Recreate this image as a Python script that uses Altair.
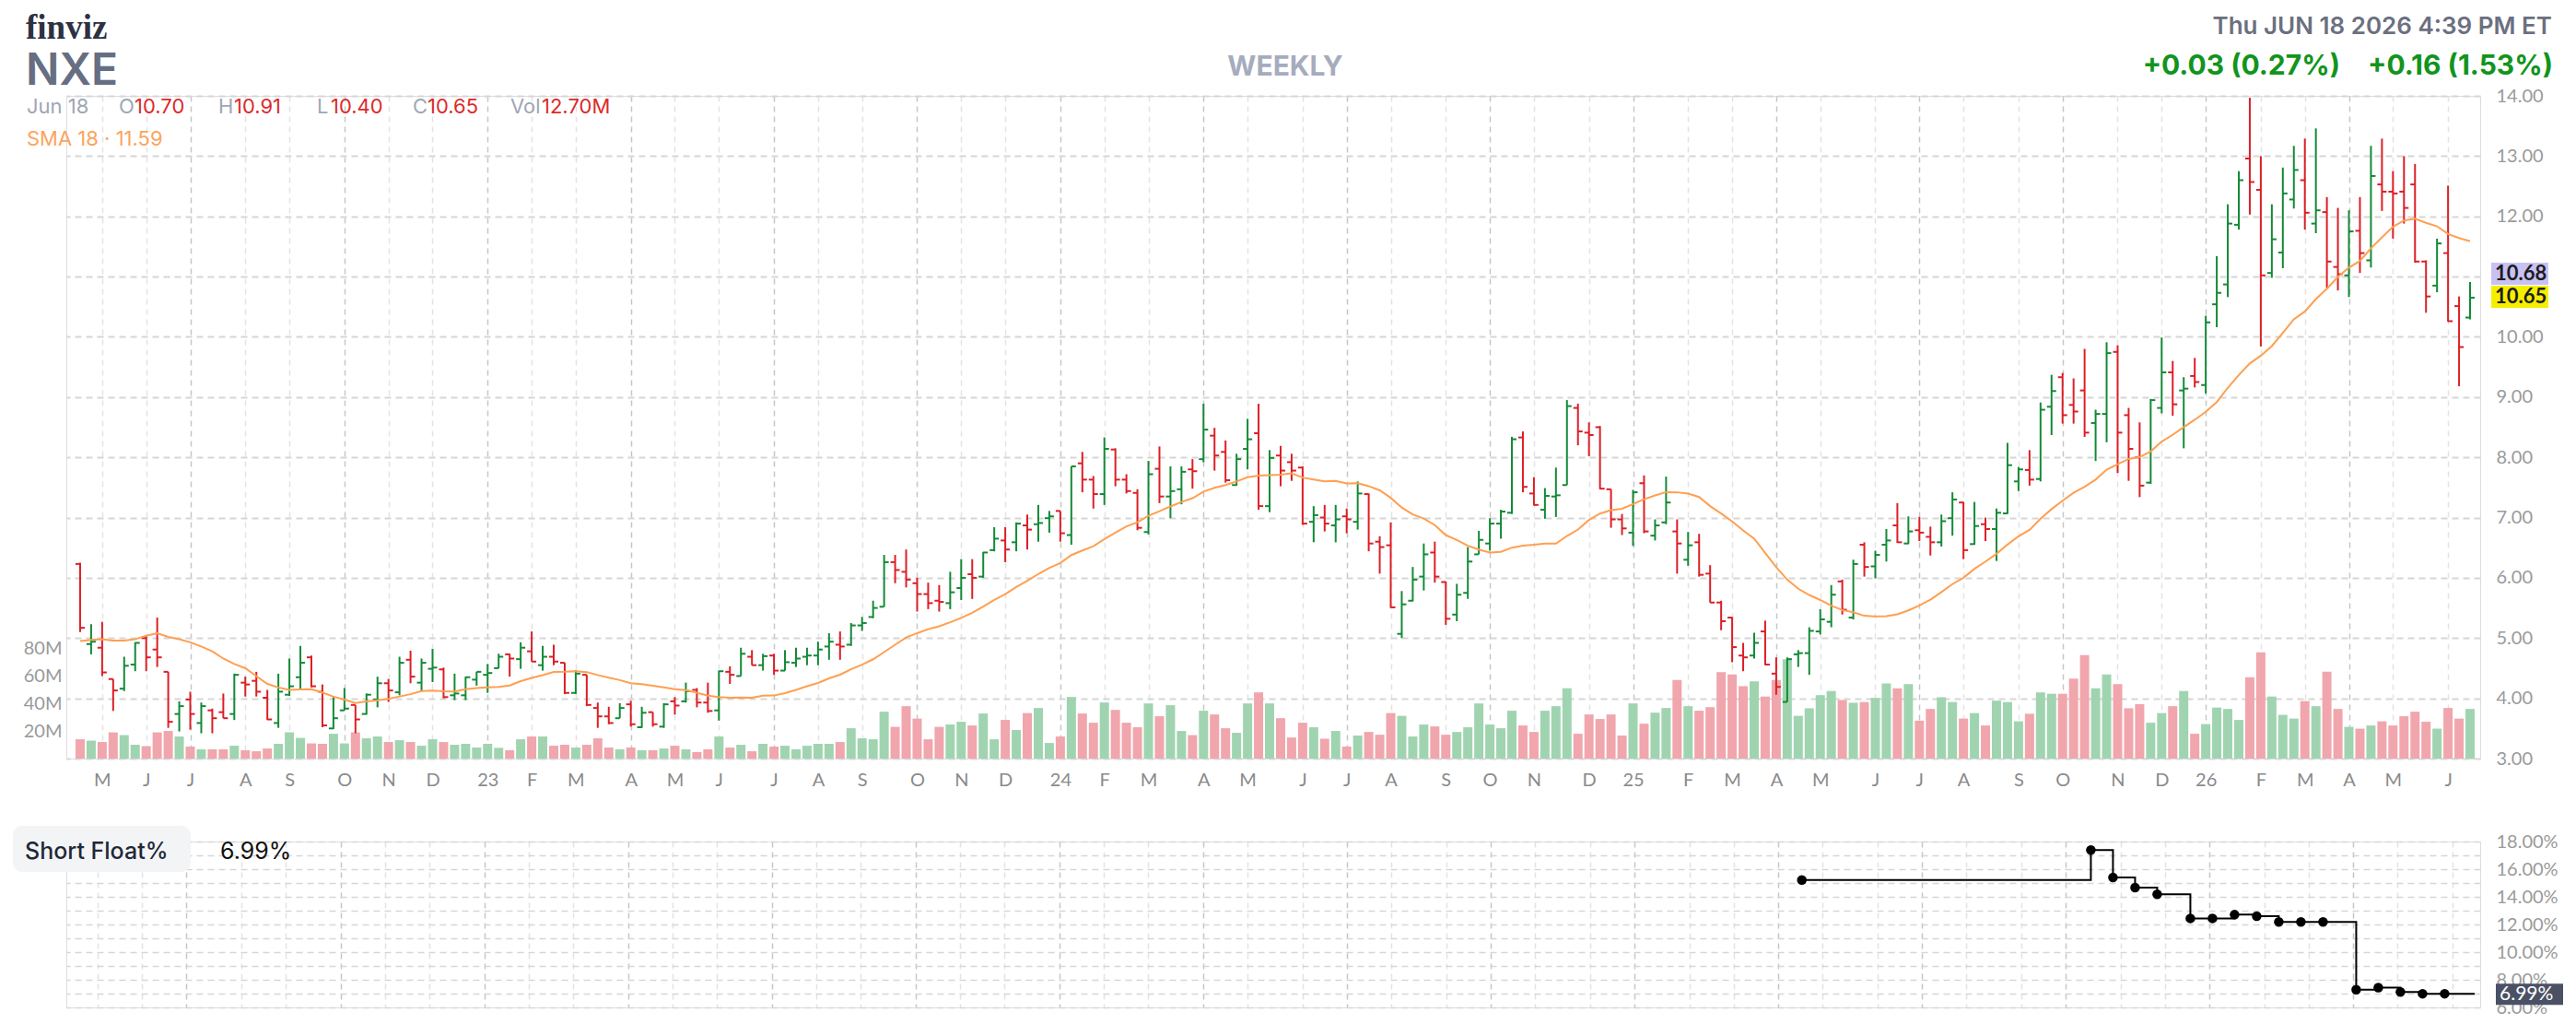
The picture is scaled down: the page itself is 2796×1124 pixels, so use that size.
import altair as alt
import pandas as pd

# ---------------- weekly OHLC + volume ----------------
o = [6.23,4.90,4.84,4.32,4.16,4.56,5.00,4.81,4.44,3.74,
     3.98,3.59,3.80,3.77,3.74,4.26,4.29,4.01,3.59,4.06,
     4.35,4.68,4.11,3.50,3.80,3.89,3.74,3.98,4.25,4.10,
     4.64,4.26,4.49,4.48,4.05,4.05,4.31,4.39,4.50,4.73,
     4.65,4.78,4.55,4.69,4.59,4.09,4.39,3.84,3.70,3.67,
     3.90,3.52,3.77,3.53,3.95,3.95,4.14,3.93,3.80,4.44,
     4.37,4.69,4.55,4.71,4.46,4.59,4.69,4.71,4.86,4.89,
     4.89,5.21,5.35,5.52,6.26,6.10,5.91,5.73,5.62,5.58,
     5.83,6.06,6.02,6.46,6.62,6.59,6.87,6.89,6.99,7.11,
     6.71,7.90,7.63,7.39,8.13,7.63,7.41,6.76,7.81,7.35,
     7.47,7.80,7.97,8.36,8.09,7.54,8.14,8.40,7.19,8.03,
     7.92,7.83,6.93,7.00,6.87,7.02,6.93,7.39,6.60,6.54,
     5.07,5.62,6.02,6.42,5.93,5.39,5.75,6.39,6.57,6.90,
     7.08,8.33,7.40,7.13,7.35,7.54,8.82,8.41,8.50,7.47,
     6.97,6.75,7.57,6.70,6.92,6.77,6.30,6.59,6.07,5.59,
     5.34,4.71,4.71,5.11,4.41,3.94,4.73,4.75,5.11,5.27,
     5.94,5.34,6.55,6.19,6.55,6.87,6.57,6.79,6.68,6.59,
     6.99,7.25,6.56,6.89,6.81,7.07,7.60,7.79,7.64,8.84,
     9.33,8.87,9.11,8.57,8.72,9.75,8.70,8.00,7.58,8.82,
     9.41,9.11,9.35,9.20,10.54,10.87,11.86,12.96,12.44,11.06,
     11.40,12.28,12.60,11.88,12.07,11.16,11.02,11.76,11.27,12.53,
     12.41,12.41,12.53,11.25,10.85,11.39,10.51,10.32]
h = [6.25,5.23,5.27,4.32,4.69,4.93,5.03,5.34,4.44,3.95,
     4.11,3.93,3.83,4.08,4.41,4.36,4.44,4.14,4.41,4.66,
     4.87,4.71,4.23,4.04,4.17,3.89,4.08,4.36,4.32,4.69,
     4.79,4.66,4.82,4.51,4.41,4.36,4.44,4.57,4.74,4.74,
     4.93,5.11,4.87,4.89,4.59,4.47,4.39,3.93,3.86,3.92,
     3.96,3.86,3.77,3.92,4.02,4.26,4.17,4.26,4.46,4.53,
     4.84,4.80,4.74,4.74,4.80,4.84,4.84,4.94,5.08,5.11,
     5.25,5.35,5.62,6.38,6.38,6.47,6.00,5.92,5.88,6.10,
     6.31,6.31,6.43,6.84,6.84,6.92,7.05,7.21,7.11,7.11,
     7.85,8.09,7.69,8.33,8.15,7.72,7.47,7.94,8.18,7.85,
     7.85,7.97,8.89,8.49,8.28,8.06,8.64,8.89,8.12,8.19,
     8.06,7.85,7.19,7.21,7.21,7.15,7.60,7.40,6.69,6.92,
     5.78,6.18,6.57,6.60,5.94,5.90,6.51,6.78,6.99,7.13,
     8.34,8.43,7.67,7.49,7.83,8.95,8.89,8.58,8.52,7.47,
     7.06,7.46,7.70,6.97,7.68,6.97,6.76,6.73,6.21,5.62,
     5.35,4.92,5.09,5.29,4.68,4.68,4.80,5.18,5.48,5.88,
     5.97,6.30,6.59,6.45,6.81,7.24,7.02,7.01,6.85,7.05,
     7.42,7.26,7.26,7.00,7.15,8.24,7.84,8.12,8.91,9.37,
     9.40,9.31,9.80,8.79,9.91,9.86,8.82,8.58,8.97,9.99,
     9.60,9.33,9.65,10.35,11.34,12.20,12.75,13.97,13.00,12.20,
     12.81,13.17,13.29,13.46,12.32,12.14,12.10,12.32,13.17,13.29,
     12.75,13.00,12.87,11.27,11.63,12.51,10.67,10.91]
l = [5.10,4.73,4.37,3.79,4.12,4.45,4.45,4.52,3.51,3.45,
     3.48,3.42,3.42,3.67,3.64,4.03,4.03,3.64,3.51,4.04,
     4.15,4.18,3.52,3.49,3.80,3.42,3.73,3.85,3.94,4.05,
     4.25,4.12,4.27,4.00,3.97,3.97,4.21,4.09,4.50,4.36,
     4.49,4.61,4.46,4.55,4.07,4.07,3.87,3.51,3.57,3.67,
     3.53,3.51,3.53,3.51,3.73,3.93,3.85,3.76,3.63,4.24,
     4.37,4.55,4.46,4.39,4.46,4.52,4.55,4.55,4.64,4.64,
     4.87,5.12,5.33,5.52,5.91,5.84,5.44,5.48,5.44,5.48,
     5.63,5.65,6.00,6.44,6.26,6.44,6.47,6.60,6.75,6.60,
     6.55,7.42,7.15,7.21,7.52,7.40,6.79,6.72,7.24,6.99,
     7.22,7.48,7.92,7.78,7.58,7.53,7.80,7.13,7.09,7.52,
     7.61,6.88,6.59,6.77,6.59,6.74,6.80,6.44,6.07,5.50,
     5.00,5.61,5.79,5.92,5.22,5.28,5.65,6.39,6.45,6.65,
     7.06,7.42,7.20,6.98,7.01,7.54,8.20,8.02,7.47,6.83,
     6.71,6.53,6.74,6.62,6.89,6.07,6.20,6.02,5.59,5.13,
     4.60,4.45,4.66,4.55,4.06,3.94,4.52,4.39,5.06,5.18,
     5.39,5.31,6.02,5.99,6.27,6.58,6.56,6.61,6.37,6.52,
     6.70,6.31,6.55,6.61,6.28,7.06,7.44,7.53,7.60,8.37,
     8.56,8.56,8.34,7.94,8.25,7.74,7.61,7.34,7.56,8.73,
     8.69,8.15,9.16,9.06,10.16,10.66,11.78,12.03,9.84,10.98,
     11.14,12.13,11.78,11.72,10.81,10.77,10.66,11.06,11.15,12.09,
     11.63,11.88,11.23,10.40,10.74,10.25,9.18,10.29]
c = [5.17,4.94,4.43,4.13,4.54,4.92,4.68,4.68,3.61,3.87,
     3.74,3.87,3.67,3.67,4.39,4.23,4.11,3.65,4.11,4.20,
     4.59,4.20,3.55,3.67,3.83,3.65,4.06,4.25,4.13,4.59,
     4.36,4.59,4.51,4.02,4.08,4.35,4.44,4.42,4.69,4.66,
     4.84,4.61,4.69,4.61,4.09,4.41,3.89,3.70,3.59,3.84,
     3.57,3.76,3.57,3.90,3.88,4.12,3.93,3.79,4.45,4.39,
     4.74,4.55,4.70,4.46,4.60,4.66,4.71,4.81,4.94,4.86,
     5.21,5.25,5.50,6.26,6.13,5.97,5.73,5.58,5.60,5.76,
     6.00,6.00,6.42,6.65,6.47,6.90,6.80,6.91,7.02,6.74,
     7.85,7.63,7.39,8.14,7.63,7.44,6.83,7.72,7.35,7.44,
     7.76,7.77,8.46,8.03,7.62,7.97,8.30,7.19,7.99,7.78,
     7.78,6.90,7.04,6.90,6.97,6.97,7.40,6.57,6.51,5.51,
     5.56,5.97,6.39,6.02,5.32,5.72,6.27,6.63,6.90,7.10,
     8.30,7.51,7.21,7.36,7.37,8.85,8.43,8.37,7.48,6.97,
     6.82,7.42,6.77,6.87,7.25,6.57,6.54,6.05,5.59,5.28,
     4.85,4.68,4.92,4.56,4.19,4.65,4.75,5.12,5.31,5.72,
     5.47,6.23,6.18,6.38,6.62,6.59,6.77,6.75,6.59,6.94,
     7.30,6.46,6.86,6.81,7.08,7.87,7.80,7.63,8.79,9.10,
     8.70,8.76,8.41,8.72,9.73,8.41,8.14,7.53,8.95,9.41,
     8.88,9.14,9.25,10.24,10.73,11.88,12.60,12.57,11.02,11.62,
     12.38,12.77,12.06,12.10,11.25,11.04,11.75,11.39,12.67,12.41,
     12.38,12.14,11.25,10.67,11.55,10.26,9.83,10.65]
v = [14,13,12,19,17,10,9,19,20,16,
     8.7,6.7,6.7,6.7,9.3,6,5.3,7.3,10.7,19,
     15,11,10.7,18,11,19,14.7,16,12,13.3,
     12,9.3,14,12,10,10.7,8,10.7,7.8,6,
     14,16,16,9.3,10,8,10,14.7,8,6.7,
     8,6,6,7.3,9.3,6.7,4.7,6.7,16,8,
     10,5.3,10.7,8.7,9.3,6.7,9.3,10.7,10.7,12,
     22,14.7,14,34,23,38,29,14,23,24.7,
     26.7,24,32.7,14,28,20.7,33,36.7,11.3,16,
     44.7,32.7,26,40.7,35.3,26,22.7,40,30.7,38.7,
     20,17,34.7,32,22,18.7,40,48,40,29.3,
     15.3,26,22.7,14.4,20,8.7,16.7,19.3,17.3,33,
     31,16,24.7,23.3,17.3,19.3,22.7,40,24.7,22,
     34.7,24,19.3,34.7,38,51,18,32,28.7,32,
     16.7,40,25.3,33.3,36.7,57,38,34.7,37.3,62.7,
     61,52.5,56,45,57,72,31,36.5,46,49,
     42.5,40.5,41,44,54.5,51,54,27.5,36,44.5,
     41,29,33,24,42,41,27,32.5,48,47,
     47,58,75,51,61,54,36.5,39.5,26,33,
     38,49,18,25,37,36,28,59,77,45,
     31.7,29,41.7,38,63,36,23,21.7,24,27,
     24,30.7,34,26.7,21.7,36.7,29,36]
# SMA 18 values for the first weeks (their history lies before the chart)
sma_head = [4.95,4.97,4.98,4.96,4.96,4.98,5.04,5.08,5.02,4.98,4.93,4.86,4.78,4.66,4.57,4.50,4.37]

# short float % (report dates and values)
sf_dates = ["2025-04-19","2025-10-19","2025-11-02","2025-11-16","2025-11-30","2025-12-21",
            "2026-01-04","2026-01-18","2026-02-01","2026-02-15","2026-03-01","2026-03-15",
            "2026-04-05","2026-04-19","2026-05-03","2026-05-17","2026-05-31"]
sf_vals = [15.22,17.38,15.40,14.67,14.18,12.44,12.44,12.71,12.60,12.18,12.18,12.18,
           7.28,7.43,7.12,6.99,6.99]

# ---------------- frames ----------------
dates = pd.date_range("2022-04-22", periods=len(c), freq="7D")
df = pd.DataFrame({"date": dates, "o": o, "h": h, "l": l, "c": c, "v": v})
df["sma_head"] = sma_head + [None] * (len(c) - len(sma_head))

# month gridlines sit on the first weekly bar of each month
firsts = [d for d in df.groupby([df.date.dt.year, df.date.dt.month]).date.min().tolist()
          if d.day <= 7]
month_vals = [alt.DateTime(year=d.year, month=d.month, date=d.day) for d in firsts]

sf_pts = pd.DataFrame({"date": pd.to_datetime(sf_dates), "val": sf_vals})
sf_line = pd.concat([sf_pts, pd.DataFrame({"date": [dates[-1]], "val": [sf_vals[-1]]})],
                    ignore_index=True)

GREEN, RED = "#138a36", "#dc1f26"
LGREEN, LRED = "#a0d4b0", "#f0a6ac"
ORANGE = "#ff9f50"
AXF = "Lato"
TXF = "Inter"
W, H, HB = 2620, 719, 180

xscale = alt.Scale(domain=[alt.DateTime(year=2022, month=4, date=16, hours=4),
                           alt.DateTime(year=2026, month=6, date=22, hours=12)])
gcol = {"condition": {"test": "month(datum.value) % 3 == 0", "value": "#c6c6c6"},
        "value": "#e3e3e3"}
xaxis_top = alt.Axis(values=month_vals, title=None, grid=True, gridColor=gcol,
                     gridDash=[6, 5], gridWidth=1.5, ticks=False, domain=False,
                     labelExpr="month(datum.value) == 0 ? timeFormat(datum.value, '%y') : slice(timeFormat(datum.value, '%b'), 0, 1)",
                     labelFont=AXF, labelFontSize=20, labelColor="#8a8a8a",
                     labelPadding=13, labelOverlap=False, labelFlush=False)
xaxis_bot = alt.Axis(values=month_vals, title=None, grid=True, gridColor=gcol,
                     gridDash=[6, 5], gridWidth=1.5, ticks=False, domain=False,
                     labels=False)

pscale = alt.Scale(domain=[3, 14], nice=False, zero=False)
paxis = alt.Axis(orient="right", values=list(range(3, 15)), title=None,
                 labelExpr="datum.value == 11 ? '' : format(datum.value, '.2f')",
                 grid=True, gridColor="#d6d6d6", gridDash=[7, 5], gridWidth=2,
                 ticks=False, domain=False, labelPadding=17, labelFont=AXF,
                 labelFontSize=20, labelColor="#9a9a9a")
vaxis = alt.Axis(orient="left", values=[20, 40, 60, 80], title=None,
                 labelExpr="datum.value + 'M'", grid=False, ticks=False, domain=False,
                 labelPadding=5, labelFont=AXF, labelFontSize=20, labelColor="#9a9a9a")

X = alt.X("date:T", scale=xscale, axis=xaxis_top)
updown = alt.condition("datum.c >= datum.o", alt.value(GREEN), alt.value(RED))
base = alt.Chart(df)

vol = base.mark_bar(size=10).encode(
    x=X, y=alt.Y("v:Q", scale=alt.Scale(domain=[0, 480.7], nice=False), axis=vaxis),
    color=alt.condition("datum.c >= datum.o", alt.value(LGREEN), alt.value(LRED)))

hl = base.mark_rule(strokeWidth=2).encode(
    x=X, y=alt.Y("l:Q", scale=pscale, axis=paxis), y2="h:Q", color=updown)
op = base.mark_rule(strokeWidth=2, xOffset=-5, x2Offset=0).encode(
    x=X, x2="date:T", y=alt.Y("o:Q", scale=pscale, axis=paxis), color=updown)
cl = base.mark_rule(strokeWidth=2, xOffset=0, x2Offset=5).encode(
    x=X, x2="date:T", y=alt.Y("c:Q", scale=pscale, axis=paxis), color=updown)
sma = base.transform_window(
    sma_calc="mean(c)", frame=[-17, 0], sort=[alt.SortField("date")]
).transform_calculate(
    sma="isValid(datum.sma_head) ? datum.sma_head : datum.sma_calc"
).mark_line(color=ORANGE, strokeWidth=2).encode(
    x=X, y=alt.Y("sma:Q", scale=pscale, axis=paxis))

one = alt.Chart(pd.DataFrame({"k": [0]}))


def txt(x, y, s, size, color, weight="normal", align="left", font=TXF, baseline="alphabetic"):
    return one.mark_text(text=s, fontSize=size, color=color, fontWeight=weight, align=align,
                         font=font, baseline=baseline).encode(x=alt.value(x), y=alt.value(y))


last_c = c[-1]
lav_box = one.mark_rect(color="#c8c1f4", yOffset=-38, y2Offset=-14).encode(
    x=alt.value(2632), x2=alt.value(2694),
    y=alt.Y(datum=last_c, scale=pscale, axis=paxis), y2=alt.Y2(datum=last_c))
yel_box = one.mark_rect(color="#f6ee00", yOffset=-13, y2Offset=11).encode(
    x=alt.value(2632), x2=alt.value(2694),
    y=alt.Y(datum=last_c, scale=pscale, axis=paxis), y2=alt.Y2(datum=last_c))
lav_txt = one.mark_text(text="10.68", fontSize=22, fontWeight="bold", color="#1c1c1c",
                        align="left", baseline="middle", font=AXF, yOffset=-26).encode(
    x=alt.value(2636), y=alt.Y(datum=last_c, scale=pscale, axis=paxis))
yel_txt = one.mark_text(text="10.65", fontSize=22, fontWeight="bold", color="#1c1c1c",
                        align="left", baseline="middle", font=AXF, yOffset=-1).encode(
    x=alt.value(2636), y=alt.Y(datum=last_c, scale=pscale, axis=paxis))

price = alt.layer(hl, op, cl, sma, lav_box, yel_box, lav_txt, yel_txt)

hdr_gray, hdr_red = "#a0a6b4", "#dd2a2a"
texts = [
    txt(-44, -62, "finviz", 37, "#2d3142", "bold", font="Liberation Serif"),
    txt(-44, -12, "NXE", 48, "#666e82", 600),
    txt(1323, -22, "WEEKLY", 30, "#a6acbd", "bold", align="center"),
    txt(2698, -67, "Thu JUN 18 2026 4:39 PM ET", 26, "#6b7080", 600, align="right"),
    txt(2699, -23, "+0.16 (1.53%)", 30, "#12941d", "bold", align="right"),
    txt(2468, -23, "+0.03 (0.27%)", 30, "#12941d", "bold", align="right"),
    txt(-43, 19, "Jun 18", 22, hdr_gray),
    txt(57, 19, "O", 22, hdr_gray), txt(74, 19, "10.70", 22, hdr_red),
    txt(165, 19, "H", 22, hdr_gray), txt(182, 19, "10.91", 22, hdr_red),
    txt(272, 19, "L", 22, hdr_gray), txt(287, 19, "10.40", 22, hdr_red),
    txt(376, 19, "C", 22, hdr_gray), txt(392, 19, "10.65", 22, hdr_red),
    txt(482, 19, "Vol", 22, hdr_gray), txt(516, 19, "12.70M", 22, hdr_red),
    txt(-43, 54, "SMA 18 \u00b7 11.59", 22, "#fca45c"),
]

top = alt.layer(vol, price, *texts).resolve_scale(y="independent").properties(width=W, height=H)

# ---------------- short float panel ----------------
sscale = alt.Scale(domain=[6, 18], nice=False, zero=False)
saxis = alt.Axis(orient="right", values=list(range(6, 19)), title=None,
                 labelExpr="datum.value % 2 == 0 ? format(datum.value, '.2f') + '%' : ''",
                 grid=True, gridColor="#d6d6d6", gridDash=[7, 5], gridWidth=1.5,
                 ticks=False, domain=False, labelPadding=17, labelFont=AXF,
                 labelFontSize=20, labelColor="#9a9a9a")
XB = alt.X("date:T", scale=xscale, axis=xaxis_bot)
sline = alt.Chart(sf_line).mark_line(interpolate="step-after", color="black", strokeWidth=2).encode(
    x=XB, y=alt.Y("val:Q", scale=sscale, axis=saxis))
spts = alt.Chart(sf_pts).mark_circle(color="black", size=110, opacity=1).encode(
    x=XB, y=alt.Y("val:Q", scale=sscale, axis=saxis))
sbox = one.mark_rect(color="#f3f4f6", cornerRadius=10).encode(
    x=alt.value(-58), x2=alt.value(135), y=alt.value(-17), y2=alt.value(33))
sval_box = one.mark_rect(color="#4b5165", yOffset=-11, y2Offset=12).encode(
    x=alt.value(2637), x2=alt.value(2710),
    y=alt.Y(datum=sf_vals[-1], scale=sscale, axis=saxis), y2=alt.Y2(datum=sf_vals[-1]))
sval_txt = one.mark_text(text="6.99%", fontSize=21, color="white", align="left",
                         baseline="middle", font=AXF, yOffset=1).encode(
    x=alt.value(2641), y=alt.Y(datum=sf_vals[-1], scale=sscale, axis=saxis))
bottom = alt.layer(
    sline, spts, sbox, sval_box, sval_txt,
    txt(-45, 19, "Short Float%", 25, "#1f2937", 500),
    txt(167, 19, "6.99%", 25, "#111111"),
).properties(width=W, height=HB)

chart = alt.vconcat(top, bottom, spacing=90, bounds="flush",
                    padding={"top": 3, "left": 5, "right": 5, "bottom": 5}).configure_view(
    stroke=None).configure(background="white")

chart.save("out.html", embed_options={"renderer": "svg", "actions": False})
